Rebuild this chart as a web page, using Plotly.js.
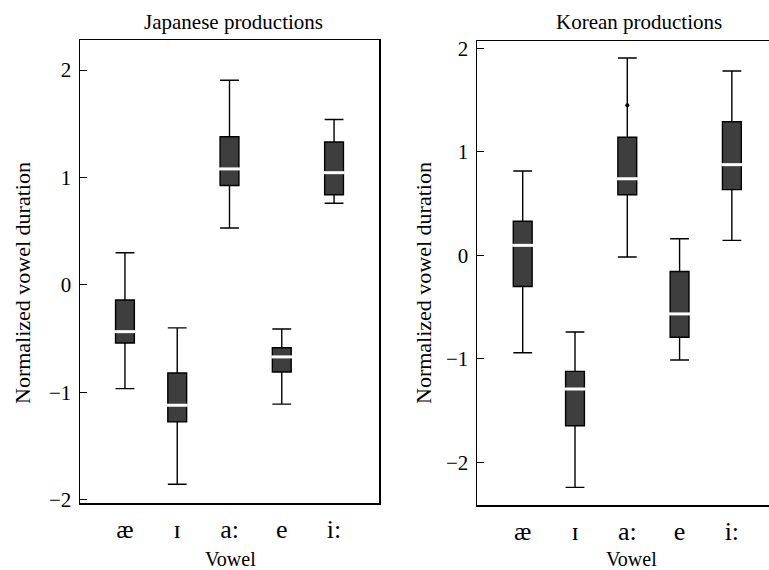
<!DOCTYPE html>
<html>
<head>
<meta charset="utf-8">
<script src="https://cdn.plot.ly/plotly-3.0.1.min.js"></script>
<style>html,body{margin:0;padding:0;background:#fff;}#chart{width:769px;height:570px;}</style>
</head>
<body>
<div id="chart"></div>
<script>
// Categories (vowels)
const vowels = ['æ', 'ɪ', 'a:', 'e', 'i:'];

// Japanese productions
const jpLowerFence = [-0.965, -1.855, 0.53, -1.11, 0.76];
const jpQ1         = [-0.54, -1.275, 0.925, -0.81, 0.84];
const jpMedian     = [-0.435, -1.12, 1.08, -0.67, 1.045];
const jpQ3         = [-0.14, -0.82, 1.38, -0.585, 1.33];
const jpUpperFence = [0.30, -0.40, 1.905, -0.41, 1.54];

// Korean productions
const krLowerFence = [-0.94, -2.24, -0.016, -1.01, 0.145];
const krQ1         = [-0.30, -1.645, 0.585, -0.79, 0.635];
const krMedian     = [0.097, -1.29, 0.74, -0.565, 0.876];
const krQ3         = [0.33, -1.12, 1.14, -0.155, 1.29];
const krUpperFence = [0.815, -0.74, 1.906, 0.16, 1.78];
const krOutlierX   = ['a:'];
const krOutlierY   = [1.45];

// Tick values
const yTickVals = [-2, -1, 0, 1, 2];

const serif = 'Liberation Serif, Times New Roman, serif';
const boxFill = '#3e3e3e';

function boxTrace(lf, q1, med, q3, uf, xa, ya) {
  return {
    type: 'box', x: vowels, q1: q1, median: med, q3: q3,
    lowerfence: lf, upperfence: uf,
    xaxis: xa, yaxis: ya,
    fillcolor: boxFill,
    line: {color: '#000', width: 1.4},
    whiskerwidth: 1, width: 0.36, boxpoints: false,
    hoverinfo: 'skip', showlegend: false
  };
}
function medianTrace(med, xa, ya) {
  return {
    type: 'scatter', mode: 'markers', x: vowels, y: med,
    xaxis: xa, yaxis: ya,
    marker: {symbol: 'line-ew', size: 15, line: {color: '#fff', width: 3}},
    hoverinfo: 'skip', showlegend: false
  };
}

const data = [
  boxTrace(jpLowerFence, jpQ1, jpMedian, jpQ3, jpUpperFence, 'x', 'y'),
  medianTrace(jpMedian, 'x', 'y'),
  boxTrace(krLowerFence, krQ1, krMedian, krQ3, krUpperFence, 'x2', 'y2'),
  medianTrace(krMedian, 'x2', 'y2'),
  {type: 'scatter', mode: 'markers', x: krOutlierX, y: krOutlierY,
   xaxis: 'x2', yaxis: 'y2', marker: {color: '#000', size: 4},
   hoverinfo: 'skip', showlegend: false}
];

const xBase = {
  type: 'category', categoryorder: 'array', categoryarray: vowels,
  showline: true, linecolor: '#000', linewidth: 1.5, mirror: true,
  showgrid: false, zeroline: false, ticks: '',
  tickfont: {family: serif, size: 26, color: '#000'},
  ticklabelstandoff: 2
};
const yBase = {
  showline: true, linecolor: '#000', linewidth: 1.5,
  showgrid: false, zeroline: false,
  ticks: 'inside', ticklen: 7, tickwidth: 1, tickcolor: '#000',
  tickvals: yTickVals,
  tickfont: {family: serif, size: 21, color: '#000'},
  ticklabelstandoff: 3
};

const layout = {
  width: 769, height: 570,
  margin: {l: 0, r: 0, t: 0, b: 0},
  paper_bgcolor: '#fff', plot_bgcolor: '#fff',
  showlegend: false,
  xaxis: Object.assign({}, xBase, {domain: [80/769, 379/769], range: [-0.86, 4.86], anchor: 'y'}),
  yaxis: Object.assign({}, yBase, {domain: [1-503/570, 1-40/570], range: [-2.03, 2.28], mirror: true, anchor: 'x'}),
  xaxis2: Object.assign({}, xBase, {domain: [477/769, 1], range: [-0.874, 4.71], anchor: 'y2'}),
  yaxis2: Object.assign({}, yBase, {domain: [1-505/570, 1-41/570], range: [-2.41, 2.07], mirror: false, anchor: 'x2'}),
  annotations: [
    {text: 'Japanese productions', xref: 'paper', yref: 'paper', x: 233/769, y: 1-22/570,
     showarrow: false, xanchor: 'center', yanchor: 'middle', font: {family: serif, size: 21, color: '#000'}},
    {text: 'Korean productions', xref: 'paper', yref: 'paper', x: 639/769, y: 1-22/570,
     showarrow: false, xanchor: 'center', yanchor: 'middle', font: {family: serif, size: 21, color: '#000'}},
    {text: 'Vowel', xref: 'paper', yref: 'paper', x: 230/769, y: 1-559/570,
     showarrow: false, xanchor: 'center', yanchor: 'middle', font: {family: serif, size: 20, color: '#000'}},
    {text: 'Vowel', xref: 'paper', yref: 'paper', x: 631/769, y: 1-559/570,
     showarrow: false, xanchor: 'center', yanchor: 'middle', font: {family: serif, size: 20, color: '#000'}},
    {text: 'Normalized vowel duration', xref: 'paper', yref: 'paper', x: 22/769, y: 1-283/570,
     showarrow: false, xanchor: 'center', yanchor: 'middle', textangle: -90, font: {family: serif, size: 22, color: '#000'}},
    {text: 'Normalized vowel duration', xref: 'paper', yref: 'paper', x: 423/769, y: 1-283/570,
     showarrow: false, xanchor: 'center', yanchor: 'middle', textangle: -90, font: {family: serif, size: 22, color: '#000'}}
  ]
};

Plotly.newPlot('chart', data, layout, {staticPlot: true, displayModeBar: false});
</script>
</body>
</html>
